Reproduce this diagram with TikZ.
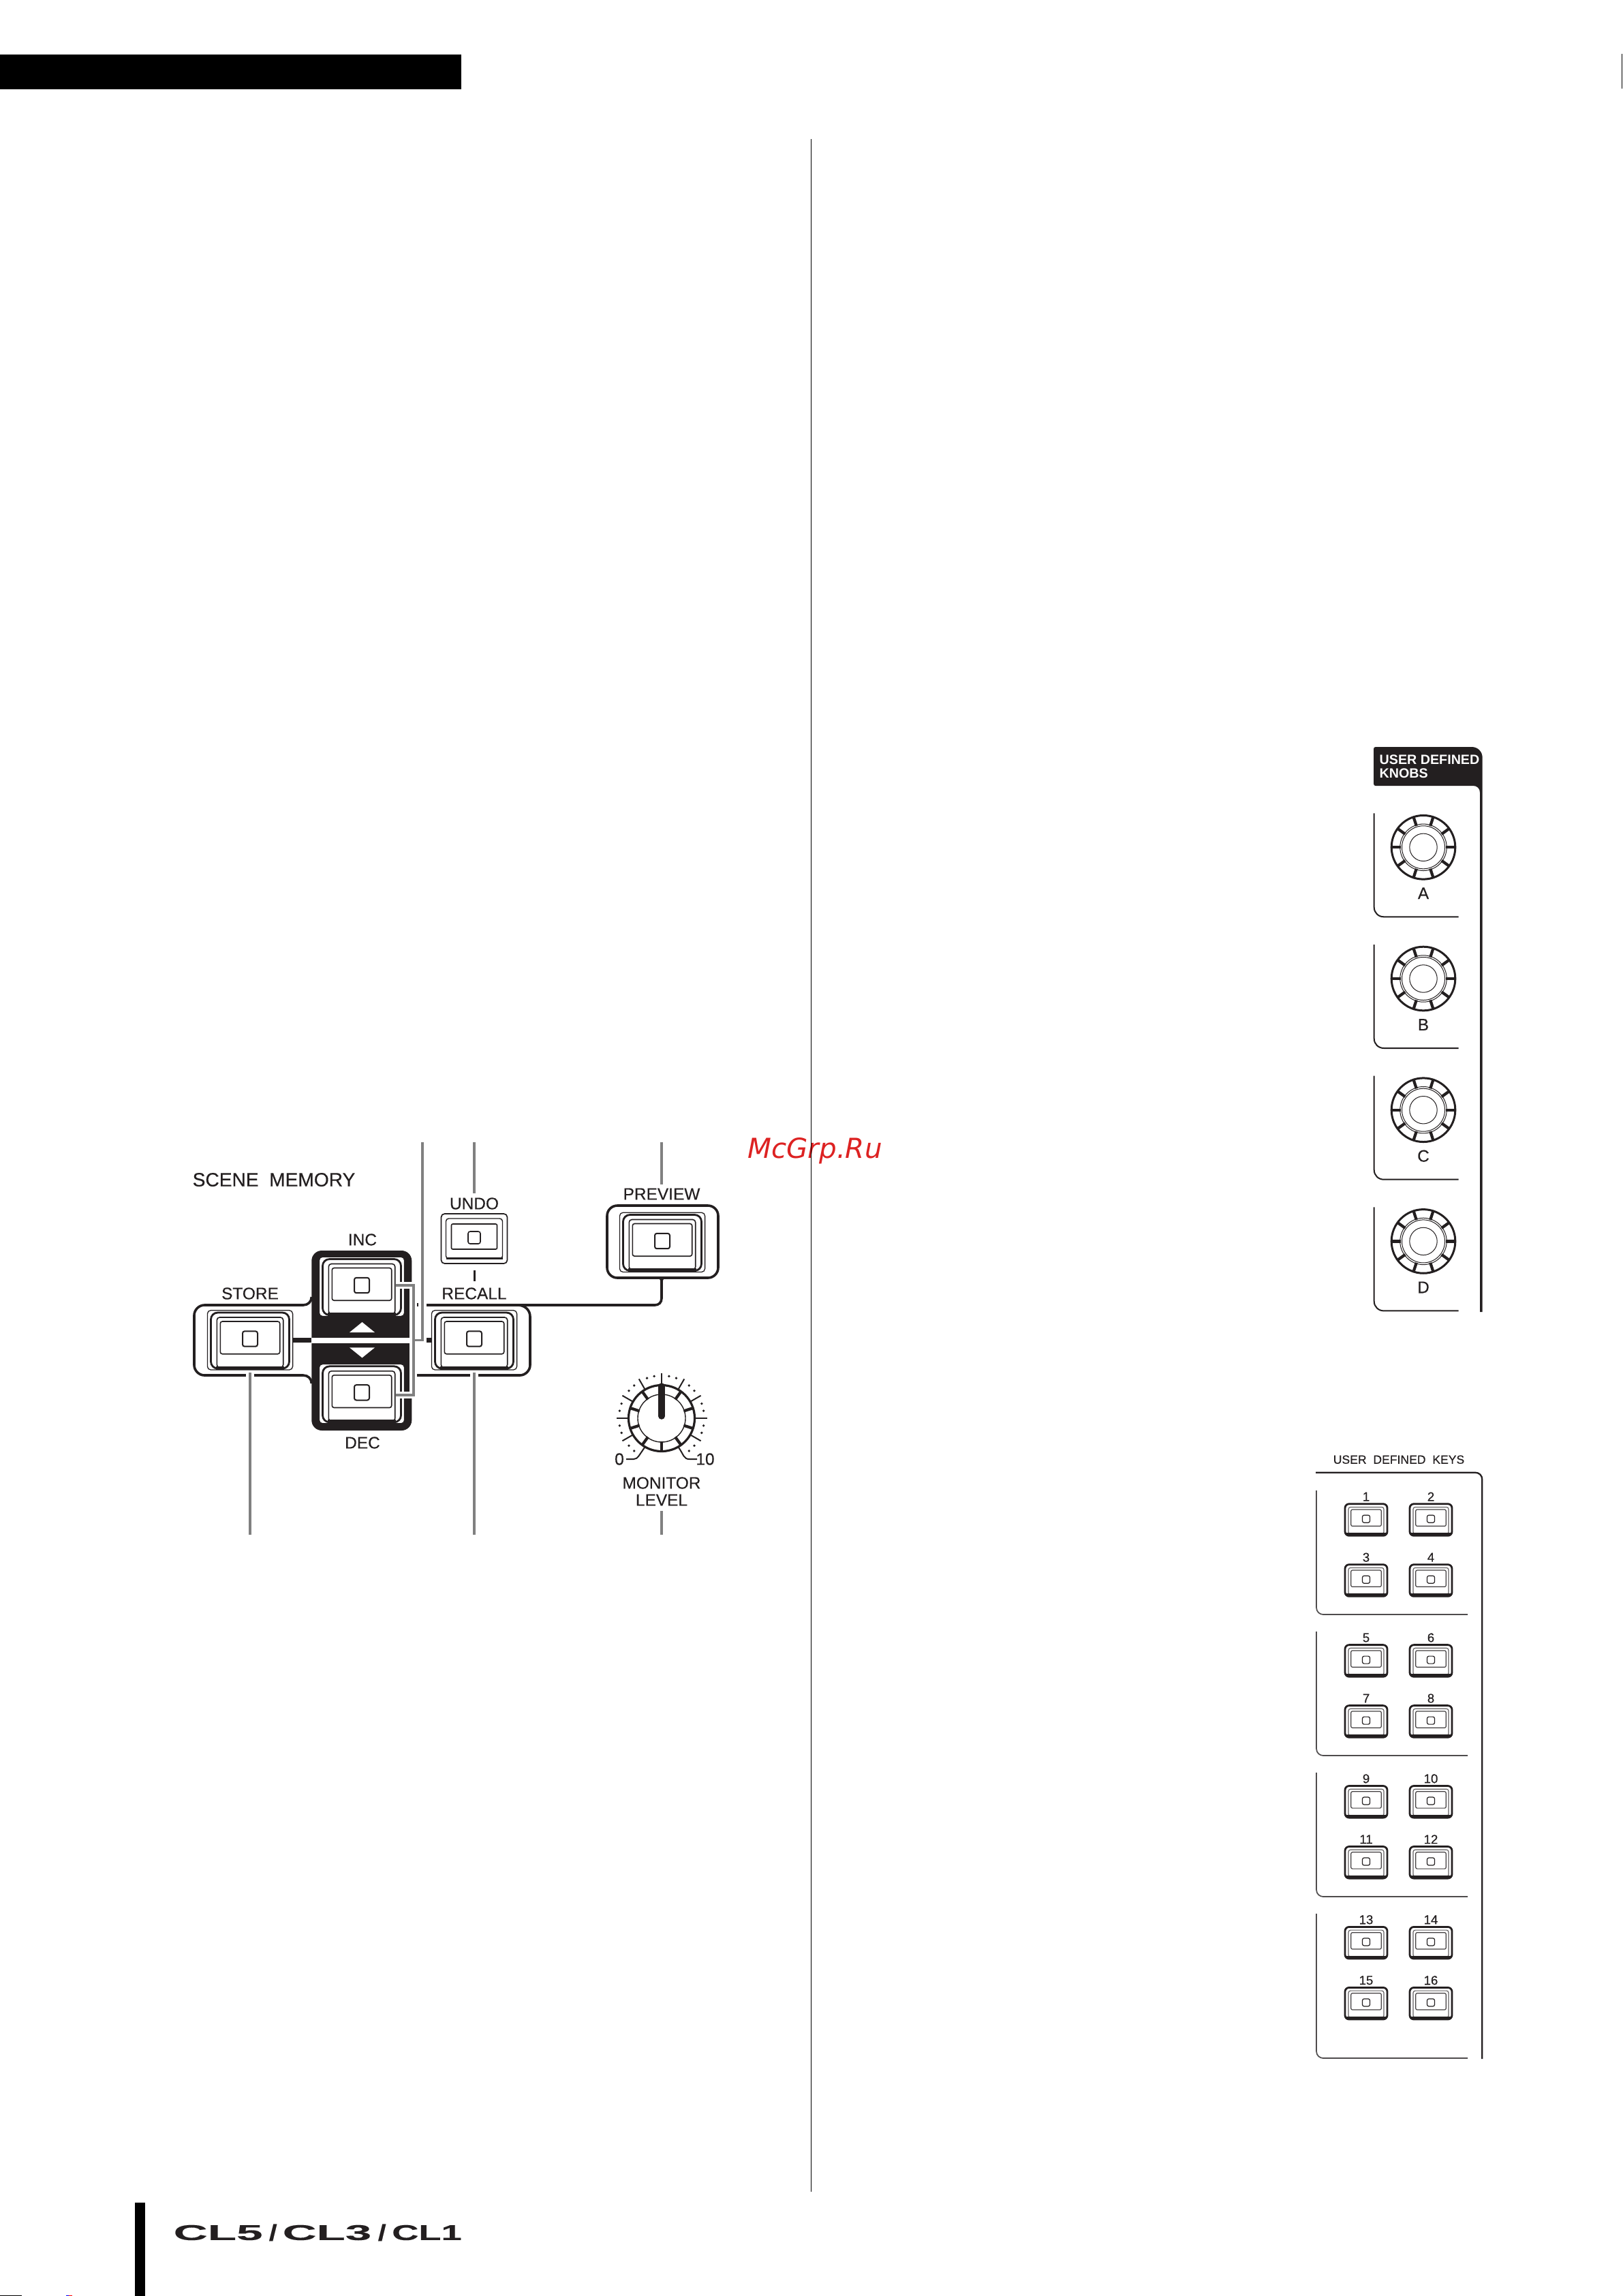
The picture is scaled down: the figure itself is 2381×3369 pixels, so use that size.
\documentclass[tikz,border=0pt]{standalone}
\usepackage{fontspec}
\usepackage{graphicx}
\setmainfont{Liberation Sans}
\newfontfamily\labfont{Liberation Sans}[FakeBold=0.35]
\newfontfamily\logofont{Liberation Sans}[FakeBold=0.3]
\newfontfamily\wmfont{DejaVu Sans}
\newdimen\pxu \pxu=0.01cm
\definecolor{ink}{HTML}{231F20}
\definecolor{leadgray}{HTML}{808080}
\definecolor{wmred}{HTML}{DD2222}
\tikzset{
  x=0.01cm,y=-0.01cm,
  leader/.style={draw=leadgray,line width=0.37mm},
  outl/.style={draw=ink,line width=0.36mm},
  panelline/.style={draw=ink,line width=0.2mm},
  lab/.style={inner sep=0,text=ink,font=\labfont\fontsize{6.95}{8}\selectfont},
  title/.style={inner sep=0,text=ink,font=\labfont\fontsize{8}{9}\selectfont},
  keytitle/.style={inner sep=0,text=ink,font=\labfont\fontsize{5}{6}\selectfont},
  keynum/.style={inner sep=0,text=ink,font=\labfont\fontsize{5.3}{6}\selectfont},
  knoblab/.style={inner sep=0,text=ink,font=\labfont\fontsize{6.9}{8}\selectfont},
  headtxt/.style={inner sep=0,anchor=base west,text=white,font=\fontsize{5.6}{7}\bfseries\selectfont},
}
% large push button centred on its LED
\newcommand\ctlbtn[3]{%
 \begin{scope}[shift={(#2,#3)}]
  \coordinate (#1) at (0,0);
  \filldraw[fill=white,draw=ink,line width=0.13mm,rounded corners=0.5mm] (-62.6,-41.8) rectangle (62.6,45.5);
  \draw[ink,line width=0.28mm,rounded corners=1mm] (-57.5,-38.5) rectangle (57.5,43.5);
  \draw[ink,line width=0.16mm,rounded corners=0.4mm] (-48.7,-31.5) rectangle (48.7,42);
  \fill[ink] (-50,40) rectangle (50,45.5);
  \draw[ink,line width=0.16mm,rounded corners=0.3mm] (-43.7,-25.5) rectangle (43.7,22.2);
  \draw[ink,line width=0.2mm,rounded corners=0.3mm] (-11,-11.2) rectangle (11,11.2);
 \end{scope}}
% UNDO button
\newcommand\undobtn[3]{%
 \begin{scope}[shift={(#2,#3)}]
  \coordinate (#1) at (0,0);
  \filldraw[fill=white,draw=ink,line width=0.17mm,rounded corners=0.5mm] (-48.5,-35) rectangle (48.5,38);
  \draw[ink,line width=0.14mm,rounded corners=0.4mm] (-41.5,-28) rectangle (41.5,31);
  \fill[ink] (-41.5,28.5) rectangle (41.5,31.5);
  \draw[ink,line width=0.16mm,rounded corners=0.2mm] (-33.5,-20) rectangle (33.5,17);
  \draw[ink,line width=0.16mm,rounded corners=0.3mm] (-9,-9) rectangle (9,9);
 \end{scope}}
% small user key with number above
\newcommand\keybtn[4]{%
 \begin{scope}[shift={(#2,#3)}]
  \coordinate (#1) at (0,0);
  \filldraw[fill=white,draw=ink,line width=0.28mm,rounded corners=0.6mm] (-31,-22) rectangle (31,24.6);
  \draw[ink!70,line width=0.12mm,rounded corners=0.3mm] (-26,-17.3) rectangle (26,22);
  \fill[ink] (-30,20.5) rectangle (30,24.6);
  \draw[ink!85,line width=0.12mm,rounded corners=0.2mm] (-22.2,-13.7) rectangle (22.2,10.6);
  \draw[ink,line width=0.12mm,rounded corners=0.25mm] (-5.5,-5.5) rectangle (5.5,5.5);
  \node[keynum] (#1-num) at (0,-32.6) {#4};
 \end{scope}}
% user defined knob with its panel line
\newcommand\userknob[2]{%
 \begin{scope}[shift={(2089,#2)}]
  \coordinate (knob#1) at (0,0);
  \draw[ink,line width=0.3mm] (0,0) circle (4.68mm);
  \draw[ink,line width=0.1mm] (0,0) circle (3.42mm);
  \draw[ink,line width=0.1mm] (0,0) circle (3.15mm);
  \draw[ink,line width=0.1mm] (0,0) circle (2.02mm);
  \foreach \a in {0,36,...,324}{\draw[ink,line width=0.42mm] (\a:33) -- (\a:47);}
  \node[knoblab] (lab#1) at (0,67.5) {#1};
  \draw[panelline] (-72.3,-50) -- (-72.3,88) .. controls (-72.3,96) and (-66,102) .. (-58,102) -- (51.7,102);
 \end{scope}}
% key group panel line
\newcommand\keypanel[2]{%
  \draw[draw=ink!80,line width=0.17mm] (1932,#1) -- (1932,#2-10) .. controls (1932,#2-4) and (1937,#2) .. (1942,#2) -- (2154,#2);}
\begin{document}
\begin{tikzpicture}
\useasboundingbox (0,0) rectangle (2381,3369);
\fill[white] (0,0) rectangle (2381,3369);
% page furniture
\fill[black] (0,80) rectangle (677,131);
\fill[black] (2380,79) rectangle (2381,130);
\coordinate (rule-top) at (1190.5,204);
\coordinate (rule-end) at (1190.5,3216);
\fill[black] (197.5,3232) rectangle (213,3369);
\fill[black] (0,3368) rectangle (32,3369);
\fill[blue] (97,3368) rectangle (101,3369);
\fill[red] (101,3368) rectangle (106,3369);
% logo
\node[inner sep=0,anchor=west,text=ink] (logo1) at (254,3276) {\resizebox{131\pxu}{22\pxu}{\logofont\bfseries CL5}};
\node[inner sep=0,anchor=west,text=ink] (logos1) at (394,3276) {\resizebox{12\pxu}{24\pxu}{\logofont\bfseries /}};
\node[inner sep=0,anchor=west,text=ink] (logo2) at (414,3276) {\resizebox{130.5\pxu}{22\pxu}{\logofont\bfseries CL3}};
\node[inner sep=0,anchor=west,text=ink] (logos2) at (554,3276) {\resizebox{12\pxu}{24\pxu}{\logofont\bfseries /}};
\node[inner sep=0,anchor=west,text=ink] (logo3) at (574.5,3276) {\resizebox{102.5\pxu}{22\pxu}{\logofont\bfseries CL1}};

% ---- SCENE MEMORY ----
\node[title,anchor=west] (scene) at (282,1731) {SCENE\ \ MEMORY};
% cross outline
\draw[outl] (457.3,1903) .. controls (457.3,1910) and (452,1915) .. (445,1915) -- (300,1915)
  .. controls (292,1915) and (285,1922) .. (285,1930) -- (285,2003)
  .. controls (285,2011) and (292,2018) .. (300,2018) -- (445,2018)
  .. controls (452,2018) and (457.3,2023) .. (457.3,2030);
\draw[outl] (626,1915) -- (961,1915) .. controls (967,1915) and (971,1911) .. (971,1905) -- (971,1875);
\fill[ink] (964,1875) .. controls (968,1876) and (969.5,1878) .. (969.5,1882) -- (972.5,1882) .. controls (972.5,1878) and (974,1876) .. (978,1875) -- cycle;
\draw[outl] (760,1915) .. controls (770,1915) and (778,1922) .. (778,1932) -- (778,2003)
  .. controls (778,2011) and (771,2018) .. (763,2018) -- (612,2018);
% centre panel
\fill[ink,rounded corners=1.5mm] (457.3,1835) rectangle (604.3,2099);
% stubs and bands
\fill[ink] (430,1963.3) rectangle (457.3,1970);
\fill[ink] (626,1963) rectangle (633,1970);
\fill[white] (457.3,1962.7) rectangle (601,1970.7);
\fill[ink] (612,1912) rectangle (613.5,1917);
% buttons
\ctlbtn{btnstore}{367}{1964.5}
\ctlbtn{btnrecall}{696}{1964.5}
\ctlbtn{btninc}{531}{1886}
\ctlbtn{btndec}{531}{2043.3}
\undobtn{btnundo}{696}{1816}
% preview
\draw[outl,fill=white,rounded corners=1.5mm] (891,1769) rectangle (1054,1875);
\ctlbtn{btnprev}{972}{1821}
% triangles
\fill[white] (531.5,1940) -- (550,1955) -- (513,1955) -- cycle;
\fill[white] (531.5,1992.3) -- (550,1977.3) -- (513,1977.3) -- cycle;
% labels
\node[lab] (inc) at (532,1819) {INC};
\node[lab] (dec) at (532,2117) {DEC};
\node[lab] (store) at (367,1898) {STORE};
\node[lab] (recall) at (696,1898) {RECALL};
\node[lab] (undo) at (696,1766) {UNDO};
\node[lab] (preview) at (971,1752) {PREVIEW};
% bracket halo
\fill[white] (600.8,1881) rectangle (611,2052);
\fill[white] (583,1881) rectangle (601,1891);
\fill[white] (583,2042) rectangle (601,2052);
% leader end points
\coordinate (ltop-a) at (620,1676);
\coordinate (ltop-b) at (620,1966.5);
\coordinate (ltop-c) at (606.7,1966.5);
\coordinate (br-a) at (583,1886);
\coordinate (br-b) at (606.7,1886);
\coordinate (br-c) at (606.7,2047);
\coordinate (br-d) at (583,2047);
\coordinate (lundo-a) at (696,1676);
\coordinate (lundo-b) at (696,1751);
\coordinate (lprev-a) at (971,1676);
\coordinate (lprev-b) at (971,1738);
\coordinate (lstore-a) at (367,2014);
\coordinate (lstore-b) at (367,2252);
\coordinate (lrec-a) at (696,2014);
\coordinate (lrec-b) at (696,2252);
\coordinate (lmon-a) at (971,2217);
\coordinate (lmon-b) at (971,2252);
\fill[white] (361,2012) rectangle (373,2022);
\fill[white] (690,2012) rectangle (702,2022);
\draw[leader] (ltop-a) -- (ltop-b) -- (ltop-c);
\draw[leader,line cap=rect] (br-a) -- (br-b) -- (br-c) -- (br-d);
\draw[leader] (lundo-a) -- (lundo-b);
\draw[leader] (lprev-a) -- (lprev-b);
\draw[leader] (lstore-a) -- (lstore-b);
\draw[leader] (lrec-a) -- (lrec-b);
\draw[leader] (lmon-a) -- (lmon-b);
\draw[draw=ink,line width=0.3mm] (696,1864) -- (696,1880);
% monitor knob
\begin{scope}[shift={(971,2081)}]
  \coordinate (monknob) at (0,0);
  \draw[ink,line width=0.32mm] (0,0) circle (4.85mm);
  \draw[ink,line width=0.14mm] (0,0) circle (3.5mm);
  \foreach \a in {36,72,...,324}{\draw[ink,line width=0.42mm] (-90+\a:34) -- (-90+\a:49);}
  \foreach \a in {-120,-90,-60,-30,0,30,60,90,120}{\draw[ink,line width=0.2mm] (-90+\a:48) -- (-90+\a:66.5);}
  \foreach \a in {10,20,40,50,70,80,100,110,130,140}{
    \fill[ink] (-90+\a:62.6) circle (0.19mm);
    \fill[ink] (-90-\a:62.6) circle (0.19mm);}
  \draw[ink,line width=0.95mm,line cap=round] (0,-3) -- (0,-47);
  \draw[ink,line width=0.2mm] (-24.3,42) .. controls (-33,54) and (-35,60) .. (-41,60) -- (-52,60);
  \draw[ink,line width=0.2mm] (24.3,42) .. controls (33,54) and (32,60) .. (41,60) -- (52,60);
\end{scope}
\node[lab] (zero) at (909,2141) {0};
\node[lab] (ten) at (1035,2141) {10};
\node[lab] (monitor) at (971,2176) {MONITOR};
\node[lab] (level) at (971,2201) {LEVEL};

% ---- USER DEFINED KNOBS ----
\fill[ink] (2019,1153) .. controls (2017,1153) and (2016,1152) .. (2016,1150) -- (2016,1099)
  .. controls (2016,1097) and (2017,1096) .. (2019,1096) -- (2160,1096)
  .. controls (2169,1096) and (2175.7,1103) .. (2175.7,1112) -- (2175.7,1925) -- (2172,1925)
  -- (2172,1163) .. controls (2172,1157) and (2168,1153) .. (2162,1153) -- cycle;
\node[headtxt] (hd1) at (2024,1121.7) {USER DEFINED};
\node[headtxt] (hd2) at (2024,1141.7) {KNOBS};
\userknob{A}{1243.3}
\userknob{B}{1436}
\userknob{C}{1628.7}
\userknob{D}{1821.4}

% ---- USER DEFINED KEYS ----
\node[keytitle] (keys) at (2053,2141.7) {USER\ \ DEFINED\ \ KEYS};
\draw[draw=ink,line width=0.23mm] (1931,2160.7) -- (2165,2160.7) .. controls (2171,2160.7) and (2175.3,2165) .. (2175.3,2171) -- (2175.3,3021);
\keypanel{2187}{2369}
\keypanel{2394}{2576}
\keypanel{2601}{2783}
\keypanel{2808}{3020}
\keybtn{k1}{2005}{2228.7}{1}
\keybtn{k2}{2100}{2228.7}{2}
\keybtn{k3}{2005}{2317.7}{3}
\keybtn{k4}{2100}{2317.7}{4}
\keybtn{k5}{2005}{2435.6}{5}
\keybtn{k6}{2100}{2435.6}{6}
\keybtn{k7}{2005}{2524.6}{7}
\keybtn{k8}{2100}{2524.6}{8}
\keybtn{k9}{2005}{2642.5}{9}
\keybtn{k10}{2100}{2642.5}{10}
\keybtn{k11}{2005}{2731.5}{11}
\keybtn{k12}{2100}{2731.5}{12}
\keybtn{k13}{2005}{2849.4}{13}
\keybtn{k14}{2100}{2849.4}{14}
\keybtn{k15}{2005}{2938.4}{15}
\keybtn{k16}{2100}{2938.4}{16}

% ---- centre rule and watermark ----
\node[inner sep=0,anchor=base,text=wmred,font=\wmfont\itshape\fontsize{11.5}{13}\selectfont] (wm) at (1196,1699) {McGrp.Ru};
\draw[draw=black,line width=0.1mm] (rule-top) -- (rule-end);
\end{tikzpicture}
\end{document}
